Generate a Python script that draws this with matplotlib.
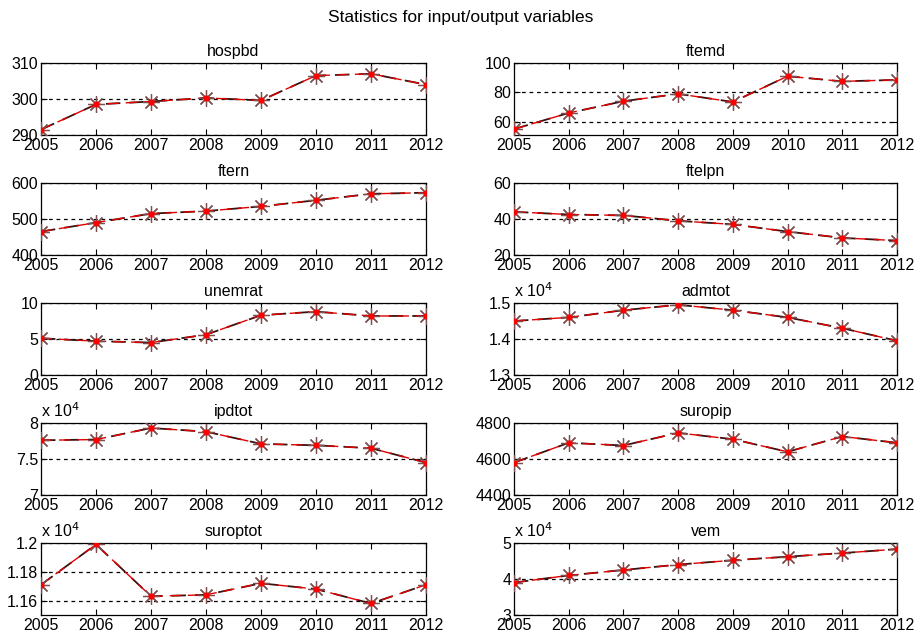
import numpy as np
import matplotlib
matplotlib.use('Agg')
import matplotlib.pyplot as plt
from matplotlib.ticker import FuncFormatter

plt.rcParams['font.family'] = ['Liberation Sans', 'DejaVu Sans']

years = [2005, 2006, 2007, 2008, 2009, 2010, 2011, 2012]

# Series (raw units)
hospbd = [291.5, 298.5, 299.3, 300.3, 299.6, 306.5, 307.0, 304.0]
ftemd = [55.0, 66.0, 74.0, 79.0, 73.5, 91.0, 87.5, 88.5]
ftern = [465, 490, 515, 522, 535, 552, 570, 573]
ftelpn = [44.0, 42.5, 42.0, 39.0, 37.0, 33.0, 29.5, 28.0]
unemrat = [5.1, 4.7, 4.5, 5.6, 8.3, 8.8, 8.2, 8.2]
admtot = [14500, 14600, 14800, 14950, 14800, 14600, 14300, 13950]
ipdtot = [77600, 77700, 79300, 78800, 77100, 76900, 76500, 74500]
suropip = [4580, 4690, 4675, 4745, 4710, 4640, 4725, 4690]
suroptot = [11710, 11990, 11630, 11640, 11720, 11680, 11580, 11710]
vem = [39000, 41000, 42500, 44000, 45200, 46200, 47200, 48300]

names = ['hospbd', 'ftemd', 'ftern', 'ftelpn', 'unemrat',
         'admtot', 'ipdtot', 'suropip', 'suroptot', 'vem']
series = [hospbd, ftemd, ftern, ftelpn, unemrat,
          admtot, ipdtot, suropip, suroptot, vem]
# y limits, y ticks, scale factor for "x 10^4"
ylims = [(290, 310), (51, 100), (400, 600), (20, 60), (0, 10),
         (13000, 15000), (70000, 80000), (4400, 4800), (11500, 12000), (30000, 50000)]
yticks = [[290, 300, 310], [60, 80, 100], [400, 500, 600], [20, 40, 60], [0, 5, 10],
          [13000, 14000, 15000], [70000, 75000, 80000], [4400, 4600, 4800],
          [11600, 11800, 12000], [30000, 40000, 50000]]
scaled = [False, False, False, False, False, True, True, False, True, True]

fig = plt.figure(figsize=(9.21, 6.39), dpi=100)
W, H = 921, 639
lefts = [41, 514]
widths = [385, 383]
tops = [63, 183, 303, 423, 543]
height = 72

for i, (name, vals) in enumerate(zip(names, series)):
    row, col = i // 2, i % 2
    ax = fig.add_axes([lefts[col] / W, 1 - (tops[row] + height) / H,
                       widths[col] / W, height / H])
    # dark dashed line with red dashed line on top (MATLAB-like look)
    ax.plot(years, vals, color='#3a1010', ls=(0, (8, 5)), lw=1.3, zorder=3)
    ax.plot(years, vals, color='#e00000', ls=(0, (8, 5)), lw=1.0, zorder=4)
    ax.plot(years, vals, ls='none', marker=(8, 2, 0), ms=12, mew=0.9,
            mec='#7a5050', zorder=5)
    ax.plot(years, vals, ls='none', marker='o', ms=3.5, mfc='red', mec='red', zorder=6)
    ax.set_xlim(2005, 2012)
    ax.set_ylim(*ylims[i])
    ax.set_xticks(years)
    ax.set_yticks(yticks[i])
    ax.yaxis.grid(True, ls=(0, (3, 3)), color='k', lw=0.9)
    ax.tick_params(direction='in', top=True, right=True, labelsize=11.5,
                   length=4, pad=2)
    if scaled[i]:
        ax.yaxis.set_major_formatter(FuncFormatter(lambda v, p: f'{v / 1e4:g}'))
        ax.text(0.0, 1.04, r'x 10$^4$', transform=ax.transAxes,
                fontsize=11.5, ha='left', va='bottom')
    ax.set_title(name, fontsize=11.5, pad=5)
    for sp in ax.spines.values():
        sp.set_linewidth(0.9)

fig.suptitle('Statistics for input/output variables', fontsize=12.5, y=0.985)
fig.savefig('out.png', dpi=100)
